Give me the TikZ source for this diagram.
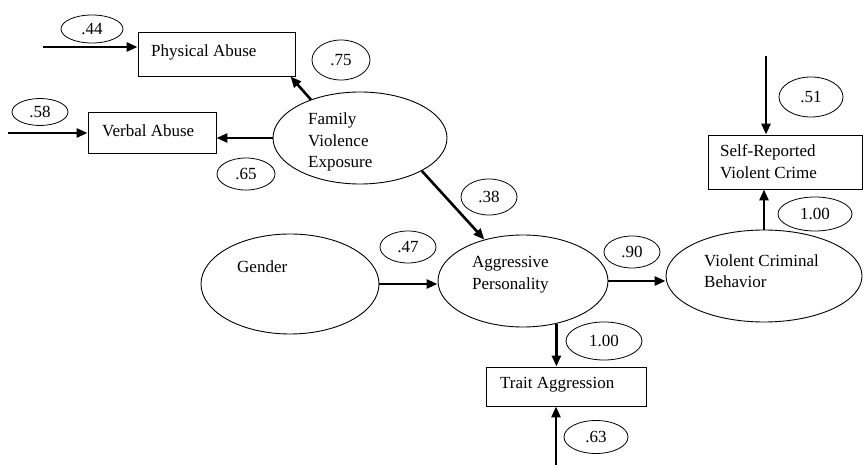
\documentclass[tikz,border=0pt]{standalone}
\usepackage{fontspec}
\setmainfont{Liberation Serif}
\usetikzlibrary{shapes.geometric,arrows.meta,calc}
\tikzset{
  lat/.style={draw,ellipse,line width=0.9pt,inner sep=0pt},
  obs/.style={draw,rectangle,line width=0.9pt,inner sep=0pt},
  lbl/.style={draw,ellipse,line width=0.8pt,inner sep=0pt,font=\fontsize{17}{20}\selectfont},
  txt/.style={inner sep=0pt,anchor=west,align=left,font=\fontsize{17}{21.5}\selectfont},
  arr/.style={line width=2.6pt,-{Triangle[length=11pt,width=9pt]}},
}
\begin{document}
\begin{tikzpicture}[x=1pt,y=-1pt]
\useasboundingbox (0,0) rectangle (863,465);
% observed boxes
\node[obs,minimum width=157pt,minimum height=44pt] (pa) at (216.5,54) {};
\node[obs,minimum width=128pt,minimum height=41pt] (va) at (152,132.5) {};
\node[obs,minimum width=154pt,minimum height=54pt] (sr) at (785,162) {};
\node[obs,minimum width=160pt,minimum height=39pt] (ta) at (566,386.5) {};
% latent ellipses
\node[lat,minimum width=174pt,minimum height=92pt] (fve) at (360,138) {};
\node[lat,minimum width=178pt,minimum height=100pt] (gen) at (290,284) {};
\node[lat,minimum width=170pt,minimum height=92pt] (ap) at (523,281) {};
\node[lat,minimum width=196pt,minimum height=92pt] (vcb) at (764,276) {};
% texts
\node[txt] (tpa) at (151,52) {Physical Abuse};
\node[txt] (tva) at (102,131) {Verbal Abuse};
\node[txt] (tsr) at (720,161.5) {Self-Reported\\Violent Crime};
\node[txt] (tta) at (500,385) {Trait Aggression};
\node[txt] (tfve) at (308,142) {Family\\Violence\\Exposure};
\node[txt] (tgen) at (237,267) {Gender};
\node[txt] (tap) at (472,274.5) {Aggressive\\Personality};
\node[txt] (tvcb) at (704,271) {Violent Criminal\\Behavior};
% coefficient labels
\node[lbl,minimum width=62pt,minimum height=28pt] (l44) at (92,29) {.44};
\node[lbl,minimum width=58pt,minimum height=40pt] (l75) at (341,60) {.75};
\node[lbl,minimum width=56pt,minimum height=27pt] (l58) at (40,112) {.58};
\node[lbl,minimum width=58pt,minimum height=32pt] (l65) at (246,174) {.65};
\node[lbl,minimum width=56pt,minimum height=36pt] (l38) at (489,197) {.38};
\node[lbl,minimum width=56pt,minimum height=32pt] (l47) at (408,247) {.47};
\node[lbl,minimum width=56pt,minimum height=32pt] (l90) at (632,252) {.90};
\node[lbl,minimum width=64pt,minimum height=40pt] (l51) at (811,97) {.51};
\node[lbl,minimum width=74pt,minimum height=34pt] (l100a) at (815,214) {1.00};
\node[lbl,minimum width=76pt,minimum height=38pt] (l100b) at (604,341) {1.00};
\node[lbl,minimum width=64pt,minimum height=33pt] (l63) at (596,437) {.63};
% free ends
\coordinate (e44) at (43,47);
\coordinate (e58) at (8,133);
\coordinate (e51) at (766,56);
\coordinate (e63) at (556,465);
% connectors
\draw[arr] (e44) -- (e44 -| pa.west);
\draw[arr] (e58) -- (e58 -| va.west);
\draw[arr] (fve.west) -- (fve.west -| va.east);
\draw[arr] (fve.142) -- ([xshift=-5pt]pa.south east);
\draw[arr] (fve.332) -- (ap.133);
\draw[arr] (gen.east) -- (gen.east -| ap.west);
\draw[arr] (ap.east) -- (ap.east -| vcb.west);
\draw[arr] (vcb.north) -- (vcb.north |- sr.south);
\draw[arr] (e51) -- (e51 |- sr.north);
\draw[arr] (ap.308) -- (ap.308 |- ta.north);
\draw[arr] (e63) -- (e63 |- ta.south);
\end{tikzpicture}
\end{document}
